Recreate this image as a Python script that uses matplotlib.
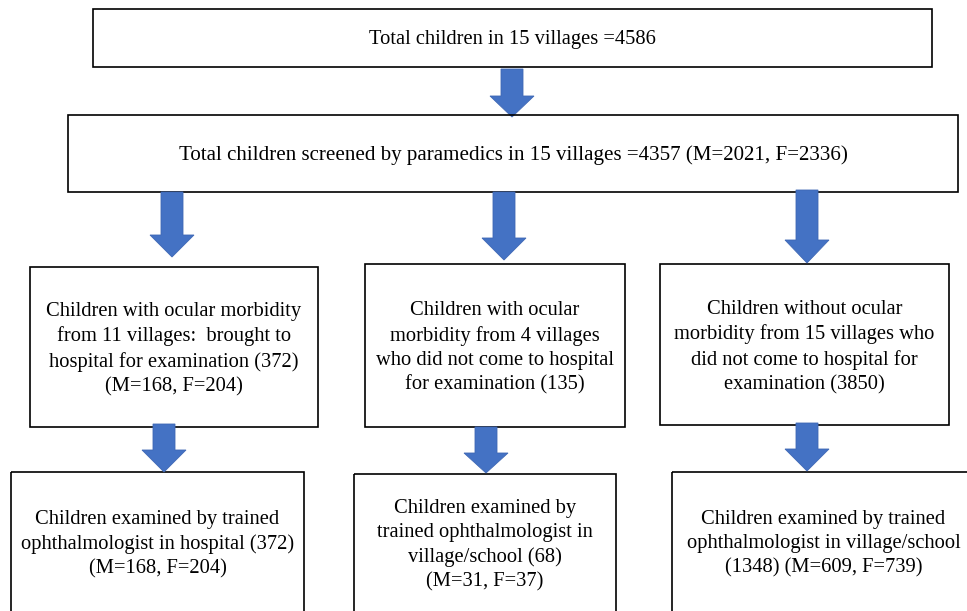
import matplotlib
matplotlib.use("Agg")
import matplotlib.pyplot as plt
from matplotlib.patches import Rectangle, FancyArrow

# ---- data: flowchart contents ----
total_children = 4586
screened = dict(total=4357, M=2021, F=2336)
row1_texts = [
    f"Total children in 15 villages ={total_children}",
    f"Total children screened by paramedics in 15 villages ={screened['total']} "
    f"(M={screened['M']}, F={screened['F']})",
]
row2_texts = [
    "Children with ocular morbidity\nfrom 11 villages:  brought to\nhospital for examination (372)\n(M=168, F=204)",
    "Children with ocular\nmorbidity from 4 villages\nwho did not come to hospital\nfor examination (135)",
    "Children without ocular\nmorbidity from 15 villages who\ndid not come to hospital for\nexamination (3850)",
]
row3_texts = [
    "Children examined by trained\nophthalmologist in hospital (372)\n(M=168, F=204)",
    "Children examined by\ntrained ophthalmologist in\nvillage/school (68)\n(M=31, F=37)",
    "Children examined by trained\nophthalmologist in village/school\n(1348) (M=609, F=739)",
]

# ---- layout (pixels) ----
W, H = 967, 611
fig = plt.figure(figsize=(W / 100, H / 100), dpi=100)
ax = fig.add_axes([0, 0, 1, 1])
ax.set_xlim(0, W)
ax.set_ylim(H, 0)
ax.axis("off")

FONT = "Liberation Serif"
FS = 14.8
LS = 1.37
ARROW_FC = "#4472C4"
ARROW_EC = "#3F68B5"

def box(x0, y0, x1, y1, text, ty=None, fs=FS):
    ax.add_patch(Rectangle((x0, y0), x1 - x0, y1 - y0, fill=False,
                           edgecolor="black", linewidth=1.2))
    cy = (y0 + y1) / 2 if ty is None else ty
    ax.text((x0 + x1) / 2, cy, text, ha="center", va="center",
            fontsize=fs, family=FONT, linespacing=LS, color="black")

def arrow(xc, y0, head_top, tip, shaft_w, head_w):
    ax.add_patch(FancyArrow(xc, y0, 0, tip - y0, width=shaft_w,
                            head_width=head_w, head_length=tip - head_top,
                            length_includes_head=True, facecolor=ARROW_FC,
                            edgecolor=ARROW_EC, linewidth=0.6))

# row 1
box(93, 9, 932, 67, row1_texts[0], ty=39.5)
arrow(512, 69, 96, 117, 22, 44)
box(68, 115, 958, 192, row1_texts[1], ty=155, fs=15.1)

# row 2
row2_boxes = [(30, 267, 318, 427), (365, 264, 625, 427), (660, 264, 949, 425)]
row2_ty = [349, 348, 347]
arrows2 = [(172, 192, 235, 257), (504, 192, 238, 260), (807, 190, 240, 263)]
for (x0, y0, x1, y1), t, ty in zip(row2_boxes, row2_texts, row2_ty):
    box(x0, y0, x1, y1, t, ty=ty)
for xc, y0, ht, tip in arrows2:
    arrow(xc, y0, ht, tip, 22, 44)

# row 3
row3_boxes = [(11, 472, 304, 640), (354, 474, 616, 640), (672, 472, 975, 640)]
row3_ty = [544, 545, 544]
arrows3 = [(164, 424, 450, 472), (486, 427, 453, 473), (807, 423, 449, 471)]
for (x0, y0, x1, y1), t, ty in zip(row3_boxes, row3_texts, row3_ty):
    box(x0, y0, x1, y1, t, ty=ty)
for xc, y0, ht, tip in arrows3:
    arrow(xc, y0, ht, tip, 22, 44)

fig.savefig("out.png", dpi=100, facecolor="white")
